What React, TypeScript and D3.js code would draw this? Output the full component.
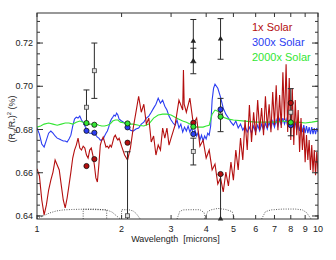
import React from 'react';
import * as d3 from 'd3';

// model spectra (wavelength in microns, transit depth in %)
const redWave = [
  1.00, 1.02, 1.04, 1.06, 1.08, 1.10, 1.12, 1.14, 1.16, 1.18,
  1.20, 1.22, 1.24, 1.26, 1.28, 1.30, 1.32, 1.34, 1.36, 1.38,
  1.40, 1.42, 1.44, 1.46, 1.48, 1.50, 1.52, 1.54, 1.56, 1.58,
  1.60, 1.62, 1.64, 1.66, 1.68, 1.70, 1.72, 1.74, 1.76, 1.78,
  1.80, 1.82, 1.84, 1.86, 1.88, 1.90, 1.92, 1.94, 1.96, 1.98,
  2.00, 2.05, 2.10, 2.15, 2.20, 2.25, 2.30, 2.35, 2.40, 2.45,
  2.50, 2.55, 2.60, 2.65, 2.70, 2.75, 2.80, 2.85, 2.90, 2.95,
  3.00, 3.10, 3.20, 3.30, 3.32, 3.34, 3.40, 3.50, 3.60, 3.70,
  3.80, 3.90, 4.00, 4.10, 4.20, 4.30, 4.40, 4.50, 4.60, 4.70,
  4.80, 4.90, 5.00, 5.10, 5.20, 5.30, 5.40, 5.50, 5.60, 5.70,
  5.80, 5.90, 6.00, 6.10, 6.20, 6.30, 6.40, 6.50, 6.60, 6.70,
  6.80, 6.90, 7.00, 7.10, 7.20, 7.30, 7.40, 7.50, 7.60, 7.70,
  7.80, 7.90, 8.00, 8.10, 8.20, 8.30, 8.40, 8.50, 8.60, 8.70,
  8.80, 8.90, 9.00, 9.10, 9.20, 9.30, 9.40, 9.50, 9.60, 9.70,
  9.80, 9.90, 10.0,
];
const redDepth = [
  0.6618, 0.6585, 0.6474, 0.6405, 0.6451, 0.6520, 0.6566, 0.6603, 0.6659, 0.6636,
  0.6613, 0.6543, 0.6474, 0.6437, 0.6483, 0.6543, 0.6603, 0.6668, 0.6705, 0.6728,
  0.6760, 0.6714, 0.6705, 0.6723, 0.6714, 0.6682, 0.6668, 0.6705, 0.6714, 0.6682,
  0.6636, 0.6576, 0.6557, 0.6636, 0.6728, 0.6751, 0.6765, 0.6742, 0.6719, 0.6723,
  0.6714, 0.6728, 0.6719, 0.6742, 0.6765, 0.6774, 0.6760, 0.6751, 0.6760, 0.6742,
  0.6723, 0.6682, 0.6659, 0.6714, 0.6807, 0.6880, 0.6954, 0.6880, 0.6917, 0.6825,
  0.6853, 0.6742, 0.6770, 0.6682, 0.6728, 0.6705, 0.6807, 0.6760, 0.6807, 0.6728,
  0.6760, 0.6820, 0.6936, 0.6890, 0.7075, 0.6917, 0.6880, 0.6945, 0.6825, 0.6853,
  0.6723, 0.6751, 0.6668, 0.6705, 0.6613, 0.6640, 0.6548, 0.6576, 0.6511, 0.6603,
  0.6539, 0.6649, 0.6566, 0.6705, 0.6613, 0.6760, 0.6659, 0.6844, 0.6705, 0.6913,
  0.6742, 0.6880, 0.6774, 0.6936, 0.6797, 0.6899, 0.6774, 0.6954, 0.6807, 0.6917,
  0.6788, 0.6973, 0.6820, 0.7005, 0.6797, 0.6959, 0.6807, 0.7065, 0.6844, 0.7102,
  0.6788, 0.7038, 0.6751, 0.6991, 0.6728, 0.6936, 0.6774, 0.6890, 0.6696, 0.6853,
  0.6705, 0.6807, 0.6649, 0.6774, 0.6659, 0.6751, 0.6613, 0.6728, 0.6603, 0.6705,
  0.6589, 0.6696, 0.6603,
];

const blueWave = [
  1.00, 1.02, 1.04, 1.06, 1.08, 1.10, 1.12, 1.14, 1.16, 1.18,
  1.20, 1.22, 1.24, 1.26, 1.28, 1.30, 1.32, 1.34, 1.36, 1.38,
  1.40, 1.42, 1.44, 1.46, 1.48, 1.50, 1.52, 1.54, 1.56, 1.58,
  1.60, 1.62, 1.64, 1.66, 1.68, 1.70, 1.72, 1.74, 1.76, 1.78,
  1.80, 1.82, 1.84, 1.86, 1.88, 1.90, 1.92, 1.94, 1.96, 1.98,
  2.00, 2.05, 2.10, 2.15, 2.20, 2.25, 2.30, 2.35, 2.40, 2.45,
  2.50, 2.55, 2.60, 2.65, 2.70, 2.75, 2.80, 2.85, 2.90, 2.95,
  3.00, 3.05, 3.10, 3.15, 3.20, 3.25, 3.30, 3.35, 3.40, 3.45,
  3.50, 3.55, 3.60, 3.65, 3.70, 3.75, 3.80, 3.85, 3.90, 3.95,
  4.00, 4.05, 4.10, 4.15, 4.20, 4.25, 4.30, 4.40, 4.50, 4.60,
  4.70, 4.80, 4.90, 5.00, 5.10, 5.20, 5.30, 5.40, 5.50, 5.60,
  5.70, 5.80, 5.90, 6.00, 6.10, 6.20, 6.30, 6.40, 6.50, 6.60,
  6.70, 6.80, 6.90, 7.00, 7.10, 7.20, 7.30, 7.40, 7.50, 7.60,
  7.70, 7.80, 7.90, 8.00, 8.10, 8.20, 8.30, 8.40, 8.50, 8.60,
  8.70, 8.80, 8.90, 9.00, 9.10, 9.20, 9.30, 9.40, 9.50, 9.60,
  9.70, 9.80, 9.90, 10.0,
];
const blueDepth = [
  0.6807, 0.6779, 0.6733, 0.6719, 0.6751, 0.6783, 0.6793, 0.6783, 0.6770, 0.6760,
  0.6756, 0.6751, 0.6747, 0.6747, 0.6742, 0.6756, 0.6774, 0.6816, 0.6848, 0.6857,
  0.6853, 0.6862, 0.6844, 0.6834, 0.6816, 0.6802, 0.6788, 0.6783, 0.6783, 0.6779,
  0.6779, 0.6774, 0.6765, 0.6760, 0.6751, 0.6751, 0.6756, 0.6770, 0.6783, 0.6793,
  0.6811, 0.6834, 0.6848, 0.6857, 0.6867, 0.6862, 0.6876, 0.6867, 0.6848, 0.6844,
  0.6839, 0.6830, 0.6816, 0.6797, 0.6793, 0.6802, 0.6807, 0.6825, 0.6834, 0.6853,
  0.6862, 0.6880, 0.6899, 0.6917, 0.6945, 0.6922, 0.6936, 0.6908, 0.6890, 0.6862,
  0.6844, 0.6830, 0.6820, 0.6844, 0.6807, 0.6825, 0.6788, 0.6811, 0.6793, 0.6816,
  0.6788, 0.6807, 0.6779, 0.6797, 0.6770, 0.6788, 0.6751, 0.6774, 0.6747, 0.6770,
  0.6756, 0.6783, 0.6774, 0.6816, 0.6936, 0.6991, 0.7010, 0.6991, 0.6950, 0.6899,
  0.6871, 0.6853, 0.6834, 0.6820, 0.6839, 0.6807, 0.6825, 0.6797, 0.6816, 0.6788,
  0.6811, 0.6783, 0.6816, 0.6788, 0.6820, 0.6793, 0.6825, 0.6797, 0.6830, 0.6802,
  0.6834, 0.6807, 0.6839, 0.6811, 0.6844, 0.6816, 0.6848, 0.6820, 0.6853, 0.6825,
  0.6848, 0.6816, 0.6844, 0.6811, 0.6839, 0.6807, 0.6834, 0.6797, 0.6830, 0.6793,
  0.6825, 0.6788, 0.6820, 0.6783, 0.6816, 0.6783, 0.6811, 0.6779, 0.6811, 0.6779,
  0.6807, 0.6779, 0.6807, 0.6788,
];

const greenWave = [
  1.00, 1.03, 1.06, 1.10, 1.14, 1.18, 1.22, 1.26, 1.30, 1.34,
  1.38, 1.42, 1.46, 1.50, 1.54, 1.58, 1.62, 1.66, 1.70, 1.74,
  1.78, 1.82, 1.86, 1.90, 1.94, 1.98, 2.05, 2.10, 2.20, 2.30,
  2.40, 2.50, 2.60, 2.70, 2.80, 2.90, 3.00, 3.10, 3.20, 3.30,
  3.40, 3.50, 3.60, 3.70, 3.80, 3.90, 4.00, 4.10, 4.20, 4.30,
  4.40, 4.50, 4.60, 4.80, 5.00, 5.50, 6.00, 6.50, 7.00, 7.50,
  8.00, 8.50, 9.00, 9.50, 10.0,
];
const greenDepth = [
  0.6811, 0.6816, 0.6825, 0.6830, 0.6825, 0.6820, 0.6825, 0.6830, 0.6830, 0.6825,
  0.6834, 0.6839, 0.6834, 0.6830, 0.6825, 0.6825, 0.6825, 0.6820, 0.6816, 0.6816,
  0.6820, 0.6825, 0.6839, 0.6844, 0.6844, 0.6834, 0.6830, 0.6825, 0.6825, 0.6820,
  0.6816, 0.6825, 0.6853, 0.6867, 0.6871, 0.6871, 0.6867, 0.6857, 0.6848, 0.6839,
  0.6834, 0.6825, 0.6816, 0.6811, 0.6811, 0.6811, 0.6816, 0.6820, 0.6871, 0.6890,
  0.6885, 0.6871, 0.6857, 0.6848, 0.6844, 0.6839, 0.6834, 0.6834, 0.6834, 0.6839,
  0.6834, 0.6834, 0.6830, 0.6834, 0.6839,
];

// band-integrated model points
const bandWave = [1.5, 1.6, 2.1, 3.6, 4.5, 8.0];
const redBand = [0.6631, 0.6663, 0.6739, 0.6831, 0.6594, 0.6923];
const blueBand = [0.6794, 0.6785, 0.6810, 0.6779, 0.6893, 0.6820];
const greenBand = [0.6830, 0.6822, 0.6828, 0.6813, 0.6859, 0.6833];

// measurements
const obsWave = [1.5, 1.6, 2.1, 3.6, 4.5, 8.0];
const obsDepth = [0.6903, 0.7072, 0.6401, 0.6698, 0.6867, 0.6880];
const obsErr = [0.0080, 0.0128, 0.0296, 0.0062, 0.0077, 0.0109];

const triWave = [3.6, 3.6, 4.5, 4.5];
const triDepth = [0.7209, 0.7117, 0.7219, 0.6386];
const triErr = [0.0100, 0.0059, 0.0094, 0.0205];

// filter throughput outlines
const filters: [number[], number[]][] = [
  [[1.0, 1.05, 1.11, 1.17, 1.24, 1.33, 1.42, 1.6, 1.77, 1.85, 1.9, 1.98],
   [0.6386, 0.6400, 0.6414, 0.6423, 0.6428, 0.6430, 0.6431, 0.6432, 0.6428, 0.6418, 0.6405, 0.6386]],
  [[1.46, 1.46, 1.77, 1.77], [0.6386, 0.6431, 0.6428, 0.6386]],
  [[2.0, 2.0, 2.12, 2.2, 2.26, 2.33], [0.6386, 0.6429, 0.6429, 0.6423, 0.6410, 0.6386]],
  [[3.15, 3.22, 3.3, 3.5, 3.8, 3.93, 3.98], [0.6386, 0.6420, 0.6428, 0.6429, 0.6429, 0.6416, 0.6386]],
  [[3.95, 4.05, 4.15, 4.4, 4.7, 4.95, 5.05], [0.6386, 0.6420, 0.6428, 0.6435, 0.6430, 0.6420, 0.6386]],
  [[6.3, 6.5, 6.8, 7.5, 8.3, 8.8, 9.1, 9.45], [0.6386, 0.6420, 0.6428, 0.6432, 0.6432, 0.6428, 0.6416, 0.6386]],
];

const legend = [
  { label: '1x Solar', color: '#b40f0f' },
  { label: '300x Solar', color: '#2b3df2' },
  { label: '2000x Solar', color: '#33e633' },
];

const W = 336, H = 260;
const left = 37, right = 318, top = 13, bottom = 219;
const font = 'Liberation Sans, Arial, Helvetica, sans-serif';

const App: React.FC = () => {
  const x = d3.scaleLog().domain([1, 10]).range([left, right]);
  const y = d3.scaleLinear().domain([0.6386, 0.7339]).range([bottom, top]);

  const line = d3.line<[number, number]>().x(d => x(d[0])).y(d => y(d[1]));
  const zip = (a: number[], b: number[]) => a.map((w, i) => [w, b[i]] as [number, number]);

  const yMajor = y.ticks(5);
  const yMinor = y.ticks(20);
  const xTicks = x.ticks().filter(t => Number.isInteger(t));
  const tri = d3.symbol(d3.symbolTriangle, 13)()!;

  const errBar = (w: number, v: number, e: number, key: string) => (
    <g key={key} stroke="#2a2a2a" strokeWidth={1}>
      <line x1={x(w)} x2={x(w)} y1={y(v - e)} y2={y(v + e)} />
      <line x1={x(w) - 3} x2={x(w) + 3} y1={y(v - e)} y2={y(v - e)} />
      <line x1={x(w) - 3} x2={x(w) + 3} y1={y(v + e)} y2={y(v + e)} />
    </g>
  );

  return (
    <svg width={W} height={H} style={{ position: 'absolute', left: 0, top: 0, background: '#fff' }}
      fontFamily={font}>
      <defs>
        <clipPath id="plot">
          <rect x={left} y={top} width={right - left} height={bottom - top} />
        </clipPath>
      </defs>

      <g clipPath="url(#plot)">
        {filters.map(([w, v], i) => (
          <path key={i} d={line(zip(w, v)) || ''} fill="none" stroke="#333"
            strokeWidth={0.8} strokeDasharray="1,1.4" />
        ))}
        <path d={line(zip(blueWave, blueDepth)) || ''} fill="none" stroke={legend[1].color} strokeWidth={1.1} />
        <path d={line(zip(greenWave, greenDepth)) || ''} fill="none" stroke={legend[2].color} strokeWidth={1.1} />
        <path d={line(zip(redWave, redDepth)) || ''} fill="none" stroke={legend[0].color} strokeWidth={1.1} />

        {obsWave.map((w, i) => errBar(w, obsDepth[i], obsErr[i], 'o' + i))}
        {triWave.map((w, i) => errBar(w, triDepth[i], triErr[i], 't' + i))}
      </g>

      {obsWave.map((w, i) => (
        <rect key={'s' + i} x={x(w) - 2} y={y(obsDepth[i]) - 2} width={4} height={4}
          fill="#ddd" stroke="#444" strokeWidth={0.8} />
      ))}
      {triWave.map((w, i) => (
        <path key={'tr' + i} d={tri} transform={`translate(${x(w)},${y(triDepth[i])})`} fill="#222" />
      ))}
      {[redBand, blueBand, greenBand].map((band, j) =>
        bandWave.map((w, i) => (
          <circle key={`b${j}-${i}`} cx={x(w)} cy={y(band[i])} r={2.6}
            fill={legend[j].color} stroke="#111" strokeWidth={0.8} />
        ))
      )}

      {/* frame */}
      <rect x={left} y={top} width={right - left} height={bottom - top} fill="none" stroke="#333" strokeWidth={1} />

      {/* y ticks, both sides */}
      {yMinor.map(t => (
        <g key={'ym' + t} stroke="#333" strokeWidth={1}>
          <line x1={left} x2={left + 3} y1={y(t)} y2={y(t)} />
          <line x1={right} x2={right - 3} y1={y(t)} y2={y(t)} />
        </g>
      ))}
      {yMajor.map(t => (
        <g key={'yM' + t}>
          <line x1={left} x2={left + 6} y1={y(t)} y2={y(t)} stroke="#333" />
          <line x1={right} x2={right - 6} y1={y(t)} y2={y(t)} stroke="#333" />
          <text x={left - 4} y={y(t) + 3.2} textAnchor="end" fontSize={9} fill="#222">
            {d3.format('.2f')(t)}
          </text>
        </g>
      ))}

      {/* x ticks, both sides */}
      {xTicks.map(t => (
        <g key={'x' + t}>
          <line x1={x(t)} x2={x(t)} y1={bottom} y2={bottom - 4} stroke="#333" />
          <line x1={x(t)} x2={x(t)} y1={top} y2={top + 4} stroke="#333" />
          <text x={x(t)} y={bottom + 13} textAnchor="middle" fontSize={9} fill="#222">{t}</text>
        </g>
      ))}

      <text x={(left + right) / 2 - 2} y={242} textAnchor="middle" fontSize={9} fill="#222"
        style={{ whiteSpace: 'pre' }}>Wavelength  [microns]</text>

      <text transform="translate(15,119) rotate(-90)" textAnchor="middle" fontSize={9} fill="#222">
        (R<tspan fontSize={6} dy={2}>p</tspan><tspan dy={-2}>/R</tspan>
        <tspan fontSize={6} dy={2}>*</tspan><tspan dy={-2}>)</tspan>
        <tspan fontSize={6} dy={-4}>2</tspan><tspan dy={4}> (%)</tspan>
      </text>

      {legend.map((l, i) => (
        <text key={l.label} x={252} y={31 + i * 15} fontSize={11} fill={l.color}>{l.label}</text>
      ))}
    </svg>
  );
};

export default App;
